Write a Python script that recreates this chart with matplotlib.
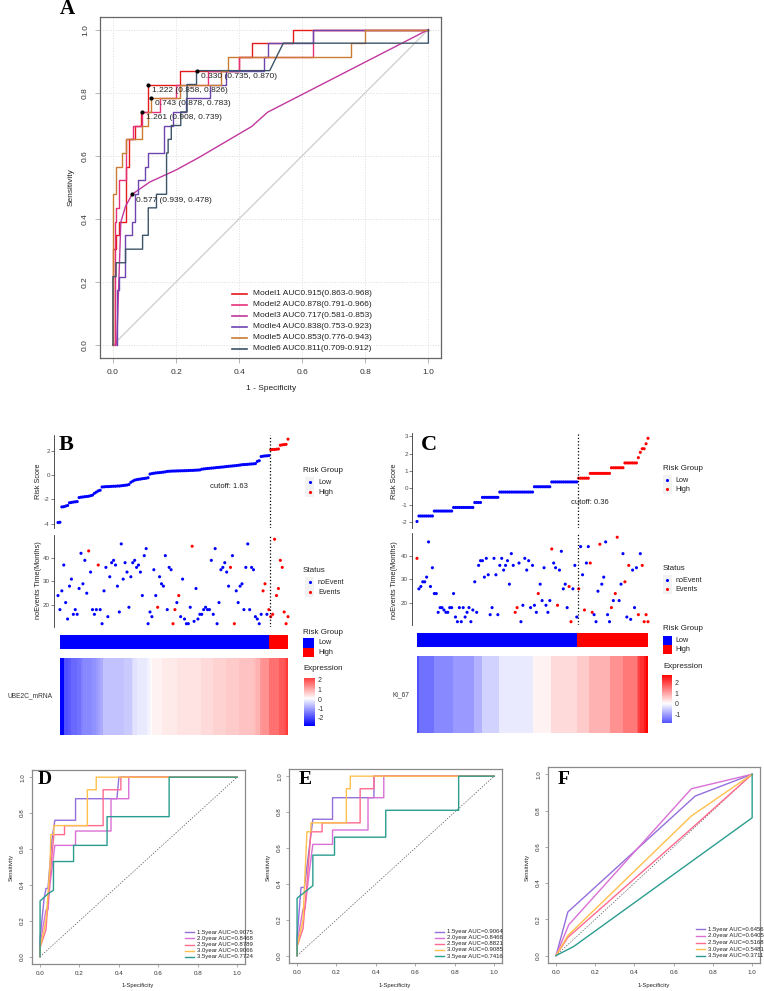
import numpy as np
import matplotlib.pyplot as plt
from matplotlib.colors import LinearSegmentedColormap, ListedColormap, Normalize
from matplotlib.patches import Rectangle

plt.rcParams['font.family'] = ['Liberation Sans', 'DejaVu Sans']

W, H = 764, 991

# ---------------- A: ROC of the six models ----------------
a_labels = ['Model1 AUC0.915(0.863-0.968)', 'Model2 AUC0.878(0.791-0.966)',
            'Model3 AUC0.717(0.581-0.853)', 'Modle4 AUC0.838(0.753-0.923)',
            'Modle5 AUC0.853(0.776-0.943)', 'Modle6 AUC0.811(0.709-0.912)']
a_colors = ['#E41A1C', '#E7307A', '#C2379E', '#6D44B0', '#C97C32', '#3D5468']

m1_fpr = [0, 0, 0.01, 0.01, 0.02, 0.02, 0.04, 0.04, 0.05, 0.05, 0.07, 0.07, 0.09, 0.09,
          0.112, 0.112, 0.212, 0.212, 0.40, 0.40, 0.44, 0.44, 0.57, 0.57, 1.0]
m1_tpr = [0, 0.304, 0.304, 0.348, 0.348, 0.391, 0.391, 0.565, 0.565, 0.652, 0.652, 0.696, 0.696,
          0.739, 0.739, 0.826, 0.826, 0.870, 0.870, 0.913, 0.913, 0.957, 0.957, 1.0, 1.0]
m2_fpr = [0.005, 0.005, 0.01, 0.01, 0.02, 0.02, 0.04, 0.04, 0.065, 0.065, 0.091, 0.091,
          0.15, 0.15, 0.20, 0.20, 0.30, 0.30, 0.40, 0.40, 0.634, 0.634, 1.0]
m2_tpr = [0, 0.391, 0.391, 0.435, 0.435, 0.522, 0.522, 0.652, 0.652, 0.696, 0.696, 0.739,
          0.739, 0.783, 0.783, 0.826, 0.826, 0.870, 0.870, 0.913, 0.913, 1.0, 1.0]
m3_fpr = [0, 0.012, 0.025, 0.04, 0.061, 0.117, 0.2, 0.275, 0.44, 0.49, 1.0]
m3_tpr = [0, 0, 0.39, 0.44, 0.478, 0.517, 0.555, 0.596, 0.693, 0.738, 1.0]
m4_fpr = [0.012, 0.012, 0.02, 0.02, 0.038, 0.038, 0.059, 0.059, 0.07, 0.07, 0.08, 0.08,
          0.103, 0.103, 0.112, 0.112, 0.162, 0.162, 0.19, 0.19, 0.233, 0.233, 0.307, 0.307,
          0.36, 0.36, 0.479, 0.479, 0.49, 0.49, 0.634, 0.634, 1.0]
m4_tpr = [0, 0.174, 0.174, 0.217, 0.217, 0.348, 0.348, 0.391, 0.391, 0.478, 0.478, 0.522,
          0.522, 0.565, 0.565, 0.609, 0.609, 0.696, 0.696, 0.739, 0.739, 0.783, 0.783, 0.826,
          0.826, 0.870, 0.870, 0.913, 0.913, 0.957, 0.957, 1.0, 1.0]
m5_fpr = [0, 0, 0.009, 0.009, 0.03, 0.03, 0.04, 0.04, 0.091, 0.091, 0.112, 0.112, 0.122, 0.122,
          0.212, 0.212, 0.344, 0.344, 0.365, 0.365, 0.755, 0.755, 0.80, 0.80, 1.0]
m5_tpr = [0, 0.478, 0.478, 0.565, 0.565, 0.609, 0.609, 0.652, 0.652, 0.696, 0.696, 0.739,
          0.739, 0.783, 0.783, 0.826, 0.826, 0.870, 0.870, 0.913, 0.913, 0.957, 0.957, 1.0, 1.0]
m6_fpr = [0, 0, 0.01, 0.01, 0.04, 0.04, 0.094, 0.094, 0.112, 0.112, 0.138, 0.138, 0.17, 0.17,
          0.175, 0.175, 0.185, 0.185, 0.215, 0.215, 0.235, 0.235, 0.265, 0.265, 0.497, 0.54,
          1.0, 1.0]
m6_tpr = [0, 0.217, 0.217, 0.261, 0.261, 0.304, 0.304, 0.348, 0.348, 0.435, 0.435, 0.478,
          0.478, 0.609, 0.609, 0.652, 0.652, 0.696, 0.696, 0.739, 0.739, 0.826, 0.826, 0.870,
          0.870, 0.957, 0.957, 1.0]

cut_fpr = [0.265, 0.112, 0.122, 0.091, 0.061]
cut_tpr = [0.870, 0.826, 0.783, 0.739, 0.478]
cut_text = ['0.330 (0.735, 0.870)', '1.222 (0.858, 0.826)', '0.743 (0.878, 0.783)',
            '1.261 (0.908, 0.739)', '0.577 (0.939, 0.478)']

# ---------------- B: UBE2C_mRNA risk model ----------------
b_risk = [-3.9, -3.88,
          -2.62, -2.6, -2.55, -2.5,
          -2.28, -2.25, -2.22, -2.2, -2.18,
          -1.85, -1.82, -1.8, -1.78, -1.76, -1.74, -1.7, -1.65,
          -1.5, -1.4, -1.3, -1.25,
          -0.98, -0.97, -0.95, -0.95, -0.94, -0.93, -0.92, -0.92, -0.9, -0.9, -0.88, -0.86,
          -0.84, -0.82, -0.78,
          -0.6, -0.5, -0.42, -0.38,
          -0.35, -0.33, -0.3, -0.28, -0.26, -0.22,
          0.08, 0.12, 0.15, 0.17, 0.19, 0.2, 0.22, 0.24, 0.26,
          0.3, 0.31, 0.32, 0.33, 0.33, 0.34, 0.34, 0.35, 0.35, 0.36, 0.36, 0.37, 0.38, 0.38,
          0.39, 0.4, 0.41, 0.42,
          0.48, 0.5, 0.52, 0.54, 0.55, 0.57, 0.58, 0.6, 0.62, 0.63, 0.65, 0.66, 0.68, 0.7,
          0.72, 0.73, 0.75, 0.76, 0.78, 0.8, 0.82,
          0.85, 0.86, 0.87, 0.88, 0.9, 0.91, 0.92, 0.94,
          1.12, 1.18,
          1.52, 1.55, 1.57, 1.58, 1.6,
          2.08, 2.1, 2.1, 2.12, 2.14,
          2.45, 2.48, 2.5, 2.52,
          2.95]
b_time = [24, 18, 26, 37, 21, 14, 28, 31, 16, 18, 16, 27, 42, 29, 39, 25, 43, 34, 18, 16,
          18, 37, 18, 12, 26, 36, 15, 32, 38, 39, 37, 28, 17, 46, 31, 38, 34, 19, 32, 38,
          39, 36, 37, 34, 24, 41, 44, 12, 17, 15, 35, 24, 19, 32, 29, 28, 41, 18, 36, 35,
          12, 18, 21, 24, 15, 31, 14, 12, 12, 19, 45, 13, 27, 14, 16, 16, 18, 19, 18, 18,
          39, 16, 44, 12, 21, 35, 36, 38, 34, 28, 36, 41, 12, 26, 21, 28, 29, 18, 36, 46,
          18, 36, 35, 15, 14, 12, 16, 26, 29, 16, 18,
          15, 16, 48, 24, 27, 39, 36, 17, 12, 15]
b_event = [0, 0, 0, 0, 0, 0, 0, 0, 0, 0, 0, 0, 0, 0, 0, 0, 1, 0, 0, 0,
           0, 1, 0, 0, 0, 0, 0, 0, 0, 0, 0, 0, 0, 0, 0, 0, 0, 0, 0, 0,
           0, 0, 0, 0, 0, 0, 0, 0, 0, 0, 0, 0, 1, 0, 0, 0, 0, 0, 0, 0,
           1, 1, 0, 1, 0, 0, 0, 0, 0, 0, 1, 0, 0, 0, 0, 0, 0, 0, 0, 0,
           0, 0, 0, 0, 0, 0, 0, 0, 0, 0, 1, 0, 1, 0, 0, 0, 0, 0, 0, 0,
           0, 0, 0, 0, 0, 0, 0, 1, 1, 0, 1,
           1, 1, 1, 1, 1, 1, 1, 1, 1, 1]
b_nlow = 111

# ---------------- C: Ki_67 risk model ----------------
c_levels = [-1.97, -1.65, -1.36, -1.15, -0.86, -0.56, -0.25, 0.06, 0.34,
            0.56, 0.84, 1.17, 1.45, 1.76, 2.07, 2.28, 2.57, 2.89]
c_counts = [1, 8, 10, 11, 4, 9, 18, 9, 14,
            6, 11, 7, 7, 1, 1, 2, 1, 1]
c_time = [39, 26, 27, 29, 29, 31, 46, 27, 35, 24, 24, 16, 18, 18, 17, 16, 16, 18, 18, 24,
          14, 12, 18, 12, 18, 14, 16, 18, 12, 17, 29, 16, 36, 38, 38, 31, 39, 32, 15, 18,
          39, 32, 15, 36, 39, 34, 36, 38, 28, 41, 36, 16, 18, 37, 12, 19, 39, 34, 38, 18,
          36, 19, 16, 24, 28, 21, 35, 19, 16, 21, 43, 37, 35, 19, 34, 42, 26, 28, 18, 27,
          12, 26, 36, 14,
          26, 44, 32, 17, 37, 44, 37, 16, 15, 12, 25, 45, 28, 31, 46, 15, 12, 18, 21, 24,
          48, 21, 28, 41, 29, 14, 36, 13, 34, 18, 35, 15, 41, 36, 12, 15, 12]
c_event = [1, 0, 0, 0, 0, 0, 0, 0, 0, 0, 0, 0, 0, 0, 0, 0, 0, 0, 0, 0,
           0, 0, 0, 0, 0, 0, 0, 0, 0, 0, 0, 0, 0, 0, 0, 0, 0, 0, 0, 0,
           0, 0, 0, 0, 0, 0, 0, 0, 0, 0, 0, 1, 1, 0, 0, 0, 0, 0, 0, 0,
           0, 0, 0, 1, 0, 0, 0, 0, 0, 0, 1, 0, 0, 1, 0, 0, 0, 0, 0, 1,
           1, 0, 0, 0,
           1, 0, 0, 1, 0, 0, 1, 1, 0, 0, 0, 1, 0, 0, 0, 0, 0, 1, 0, 1,
           1, 0, 0, 0, 1, 0, 1, 0, 0, 0, 0, 1, 0, 1, 1, 1, 1]
c_nlow = 84

# ---------------- D/E/F: time-dependent ROC ----------------
year_labels = ['1.5year', '2.0year', '2.5year', '3.0year', '3.5year']
year_colors = ['#9370DB', '#DA70D6', '#FF6A8F', '#FFC04C', '#2A9D8F']

d_auc = ['0.9075', '0.8468', '0.8789', '0.9066', '0.7724']
d_fpr = [[0, 0, 0.02, 0.03, 0.04, 0.06, 0.075, 0.18, 0.18, 0.39, 0.40, 1.0],
         [0, 0, 0.03, 0.04, 0.05, 0.075, 0.18, 0.18, 0.36, 0.36, 0.45, 0.45, 1.0],
         [0, 0, 0.03, 0.045, 0.07, 0.124, 0.124, 0.32, 0.32, 0.41, 0.41, 1.0],
         [0, 0, 0.03, 0.05, 0.055, 0.07, 0.07, 0.24, 0.24, 0.285, 0.285, 1.0],
         [0, 0, 0.04, 0.068, 0.068, 0.17, 0.17, 0.34, 0.34, 0.655, 0.655, 1.0]]
d_tpr = [[0, 0.1, 0.32, 0.38, 0.38, 0.65, 0.76, 0.76, 0.88, 0.88, 1.0, 1.0],
         [0, 0.07, 0.26, 0.26, 0.4, 0.62, 0.62, 0.70, 0.70, 0.88, 0.88, 1.0, 1.0],
         [0, 0.05, 0.15, 0.38, 0.68, 0.68, 0.73, 0.73, 0.93, 0.93, 1.0, 1.0],
         [0, 0.05, 0.2, 0.5, 0.68, 0.68, 0.73, 0.73, 0.93, 0.93, 1.0, 1.0],
         [0, 0.31, 0.35, 0.37, 0.53, 0.53, 0.62, 0.62, 0.78, 0.78, 1.0, 1.0]]

e_auc = ['0.9064', '0.8466', '0.8821', '0.9085', '0.7416']
e_fpr = [[0, 0, 0.02, 0.037, 0.08, 0.18, 0.18, 0.39, 0.39, 1.0],
         [0, 0, 0.03, 0.04, 0.06, 0.08, 0.18, 0.18, 0.36, 0.36, 0.44, 0.44, 1.0],
         [0, 0, 0.03, 0.05, 0.07, 0.127, 0.127, 0.32, 0.32, 0.39, 0.39, 1.0],
         [0, 0, 0.03, 0.05, 0.07, 0.07, 0.25, 0.25, 0.27, 0.27, 1.0],
         [0, 0, 0.08, 0.08, 0.19, 0.19, 0.45, 0.45, 0.82, 0.82, 1.0]]
e_tpr = [[0, 0.1, 0.38, 0.38, 0.76, 0.76, 0.88, 0.88, 1.0, 1.0],
         [0, 0.07, 0.26, 0.26, 0.45, 0.62, 0.62, 0.70, 0.70, 0.88, 0.88, 1.0, 1.0],
         [0, 0.05, 0.15, 0.4, 0.69, 0.69, 0.74, 0.74, 0.93, 0.93, 1.0, 1.0],
         [0, 0.05, 0.2, 0.69, 0.69, 0.74, 0.74, 0.93, 0.93, 1.0, 1.0],
         [0, 0.32, 0.39, 0.56, 0.56, 0.66, 0.66, 0.81, 0.81, 1.0, 1.0]]

f_auc = ['0.6456', '0.6405', '0.5168', '0.5481', '0.3711']
f_fpr = [[0, 0.06, 0.71, 1.0],
         [0, 0.065, 0.69, 1.0],
         [0, 0.06, 0.69, 1.0],
         [0, 0.06, 0.69, 1.0],
         [0, 0.09, 1.0, 1.0]]
f_tpr = [[0, 0.24, 0.88, 1.0],
         [0, 0.17, 0.92, 1.0],
         [0, 0.10, 0.70, 1.0],
         [0, 0.11, 0.77, 1.0],
         [0, 0.05, 0.76, 1.0]]


fig = plt.figure(figsize=(W / 100, H / 100), dpi=100)


def px_ax(x0, y0, x1, y1):
    # axes placed by pixel box (top-left origin)
    return fig.add_axes([x0 / W, 1 - y1 / H, (x1 - x0) / W, (y1 - y0) / H])


def roc_frame(ax, labelsize, length, pad, spine_col, tick_col):
    ticks = [0, 0.2, 0.4, 0.6, 0.8, 1.0]
    ax.set_xlim(-0.041, 1.04)
    ax.set_ylim(-0.041, 1.04)
    ax.set_xticks(ticks, labels=['%.1f' % t for t in ticks])
    ax.set_yticks(ticks, labels=['%.1f' % t for t in ticks])
    for lab in ax.get_yticklabels():
        lab.set_rotation(90)
        lab.set_va('center')
    ax.tick_params(labelsize=labelsize, length=length, width=0.5, pad=pad,
                   color=tick_col, labelcolor='#333333')
    for sp in ax.spines.values():
        sp.set_color(spine_col)
        sp.set_linewidth(0.9)


# ---- A
ax = px_ax(100, 17, 441, 358)
ax.grid(True, color='#DDDDDD', ls=':', lw=0.7)
ax.set_axisbelow(True)
ax.plot([0, 1], [0, 1], color='#C8C8C8', lw=0.8)
a_fpr = [m1_fpr, m2_fpr, m3_fpr, m4_fpr, m5_fpr, m6_fpr]
a_tpr = [m1_tpr, m2_tpr, m3_tpr, m4_tpr, m5_tpr, m6_tpr]
for fpr, tpr, col in zip(a_fpr, a_tpr, a_colors):
    ax.plot(fpr, tpr, color=col, lw=1.0)
ax.scatter(cut_fpr, cut_tpr, s=4, color='black', zorder=5)
for x, y, t in zip(cut_fpr, cut_tpr, cut_text):
    ax.annotate(t, (x, y), xytext=(2.9, -4.2), textcoords='offset points',
                fontsize=6, ha='left', va='center', color='#222222')
roc_frame(ax, 6, 3.5, 4.5, '#666666', '#999999')

# ---- B / C risk panels
cmap_hm = LinearSegmentedColormap.from_list('bwr_ph', ['#0000FF', '#FFFFFF', '#FF0000'], N=64)
grp_cmap = ListedColormap(['#0000FF', '#FF0000'])


def risk_panel(risk, time, event, n_low, p):
    risk = np.asarray(risk, dtype=float)
    n = len(risk)
    idx_r = np.arange(1, n + 1)
    idx_t = np.arange(1, len(time) + 1)
    step = (p['last'] - p['first']) / (n - 1)
    xl = (1 - (p['first'] - p['x0']) / step, n + 4 / step)
    cut_x = n_low + 0.5

    def side_axis(a, ticks):
        for s in ['top', 'right', 'bottom']:
            a.spines[s].set_visible(False)
        a.spines['left'].set_color('#333333')
        a.spines['left'].set_linewidth(0.6)
        a.set_xticks([])
        a.set_yticks(ticks, labels=[str(t) for t in ticks])
        a.tick_params(axis='y', labelsize=4.5, length=2, width=0.5, pad=1,
                      colors='#4D4D4D')
        a.set_xlim(*xl)
        a.patch.set_alpha(0)

    r_col = ['#0000FF' if i < n_low else '#FF0000' for i in range(n)]
    a1 = px_ax(p['x0'], p['ry0'], p['last'] + 4, p['ry1'])
    a1.scatter(idx_r, risk, c=r_col, s=5, lw=0)
    a1.axvline(cut_x, color='black', ls=':', lw=0.9)
    a1.set_ylim(*p['rlim'])
    side_axis(a1, p['rticks'])

    t_col = ['#FF0000' if e else '#0000FF' for e in event]
    a2 = px_ax(p['x0'], p['ty0'], p['last'] + 4, p['ty1'])
    a2.scatter(idx_t, time, c=t_col, s=5, lw=0)
    a2.axvline(cut_x, color='black', ls=':', lw=0.9)
    a2.set_ylim(10.6, 49.8)
    side_axis(a2, [20, 30, 40])

    grp = (np.arange(n) >= n_low).astype(int)
    a3 = px_ax(p['hx0'], p['by0'], p['hx1'], p['by1'])
    a3.imshow(grp[None, :], aspect='auto', cmap=grp_cmap, vmin=0, vmax=1,
              extent=(0.5, n + 0.5, 0, 1), interpolation='nearest')
    a3.axis('off')

    z = (risk - risk.mean()) / risk.std(ddof=1)
    lim = np.abs(z).max()
    norm = Normalize(-lim, lim)
    a4 = px_ax(p['hx0'], p['hy0'], p['hx1'], p['hy1'])
    a4.imshow(z[None, :], aspect='auto', cmap=cmap_hm, norm=norm,
              extent=(0.5, n + 0.5, 0, 1), interpolation='nearest')
    a4.axis('off')

    # expression colour key
    zmin, zmax = z.min(), z.max()
    top = p['c_zero'] - zmax * p['c_ppu']
    bot = p['c_zero'] - zmin * p['c_ppu']
    cax = px_ax(p['cx0'], top, p['cx0'] + p['cw'], bot)
    cax.imshow(np.linspace(zmin, zmax, 200)[:, None], aspect='auto', cmap=cmap_hm,
               norm=norm, extent=(0, 1, zmin, zmax), origin='lower')
    cticks = [t for t in range(-3, 4) if zmin <= t <= zmax]
    cax.set_xticks([])
    cax.yaxis.tick_right()
    cax.set_yticks(cticks, labels=[str(t) for t in cticks])
    cax.tick_params(length=0, pad=2, labelsize=5, labelcolor='#333333')
    for sp in cax.spines.values():
        sp.set_visible(False)


pB = dict(x0=54, first=58, last=288, ry0=435, ry1=528, rlim=(-4.35, 3.29),
          rticks=[-4, -2, 0, 2], ty0=535, ty1=627, hx0=60, hx1=288,
          by0=635, by1=649, hy0=658, hy1=735, cx0=304, cw=11, c_zero=699, c_ppu=9.5)
pC = dict(x0=412, first=417, last=648, ry0=433, ry1=528, rlim=(-2.35, 3.2),
          rticks=[-2, -1, 0, 1, 2, 3], ty0=533, ty1=625, hx0=417, hx1=648,
          by0=633, by1=647, hy0=656, hy1=733, cx0=662, cw=10, c_zero=704, c_ppu=10.5)
c_risk = np.repeat(c_levels, c_counts)
risk_panel(b_risk, b_time, b_event, b_nlow, pB)
risk_panel(c_risk, c_time, c_event, c_nlow, pC)

# ---- D / E / F


def small_roc(box, fprs, tprs):
    a = px_ax(*box)
    a.plot([0, 1], [0, 1], color='#555555', lw=0.5, ls=(0, (2, 2)))
    for fpr, tpr, col in zip(fprs, tprs, year_colors):
        a.plot(fpr, tpr, color=col, lw=1.0)
    roc_frame(a, 4.5, 2.5, 2.5, '#8A8A8A', '#8A8A8A')
    return a


small_roc((32, 770, 245, 964), d_fpr, d_tpr)
small_roc((289, 769, 502, 963), e_fpr, e_tpr)
small_roc((548, 767, 760, 963), f_fpr, f_tpr)

# ---------------- overlay: labels, legends ----------------
ov = fig.add_axes([0, 0, 1, 1], zorder=10)
ov.set_xlim(0, W)
ov.set_ylim(H, 0)
ov.axis('off')
ov.patch.set_alpha(0)

serif = ['Liberation Serif', 'DejaVu Serif']
for letter, x, y, fs in [('A', 67, 9, 15), ('B', 66.5, 445, 16), ('C', 429, 445, 16),
                         ('D', 45, 780, 14), ('E', 305, 780, 14), ('F', 564, 779, 14)]:
    ov.text(x, y, letter, family=serif, fontweight='bold', fontsize=fs,
            ha='center', va='center')

# A labels and legend
ov.text(71, 187, 'Sensitivity', rotation=90, fontsize=6, ha='center', va='center', color='#222222')
ov.text(271, 388, '1 - Specificity', fontsize=6, ha='center', va='center', color='#222222')
for k, (lab, col) in enumerate(zip(a_labels, a_colors)):
    y = 293.5 + 11 * k
    ov.plot([232, 247], [y, y], color=col, lw=1.2)
    ov.text(253, y, lab, fontsize=6, va='center', color='#222222')

# B / C axis labels
for x in [38, 395]:
    ov.text(x, 481, 'Risk Score', rotation=90, fontsize=5.3, ha='center', va='center', color='#222222')
    ov.text(x, 580, 'noEvents Time(Months)', rotation=90, fontsize=5.3, ha='center',
            va='center', color='#222222')
ov.text(229, 486, 'cutoff: 1.63', fontsize=5.5, ha='center', va='center', color='#222222')
ov.text(590, 503, 'cutoff: 0.36', fontsize=5.5, ha='center', va='center', color='#222222')
ov.text(52, 696, 'UBE2C_mRNA', fontsize=4.8, ha='right', va='center', color='#333333')
ov.text(409, 695, 'Ki_67', fontsize=4.8, ha='right', va='center', color='#333333')


def key_legend(xt, xk, xl, yt, rows, title, labels, cols, gap, square=False, kw=10):
    ov.text(xt, yt, title, fontsize=5.8, va='center', color='#222222')
    for k, (lab, col) in enumerate(zip(labels, cols)):
        y = rows + gap * k
        if square:
            ov.add_patch(Rectangle((xk - kw / 2, y - gap / 2), kw, gap, color=col, lw=0))
        else:
            ov.add_patch(Rectangle((xk - 4.8, y - gap / 2), 9.6, gap, color='#F2F2F2', lw=0))
            ov.scatter([xk], [y], s=5, color=col, lw=0)
        ov.text(xl, y, lab, fontsize=5.2, va='center', color='#222222')


rb = ['#0000FF', '#FF0000']
key_legend(303, 309.5, 318, 471, 482, 'Risk Group', ['Low', 'High'], rb, 10)
key_legend(303, 309.5, 318, 571, 582, 'Status', ['noEvent', 'Events'], rb, 10)
key_legend(303, 308.7, 318, 632, 643, 'Risk Group', ['Low', 'High'], rb, 9.4, square=True, kw=10.7)
ov.text(303, 668, 'Expression', fontsize=5.8, va='center', color='#222222')
key_legend(663, 667.3, 675.5, 468, 480, 'Risk Group', ['Low', 'High'], rb, 9.3)
key_legend(663, 667.3, 675.5, 568, 580, 'Status', ['noEvent', 'Events'], rb, 9.3)
key_legend(663, 667.3, 675.5, 629, 640.6, 'Risk Group', ['Low', 'High'], rb, 9.2, square=True, kw=9.5)
ov.text(663, 667, 'Expression', fontsize=5.8, va='center', color='#222222')

# D/E/F labels and legends
for xs, xc, x_line, y0, gap, aucs in [(11, 138, 185, 932.3, 6.1, d_auc),
                                      (268, 395, 435, 931.7, 6.1, e_auc),
                                      (527, 654, 696, 929.3, 6.6, f_auc)]:
    ov.text(xs, 867, 'Sensitivity', rotation=90, fontsize=4.2, ha='center', va='center', color='#222222')
    ov.text(xc, 985, '1-Specificity', fontsize=4.2, ha='center', va='center', color='#222222')
    for k, (yl, col, auc) in enumerate(zip(year_labels, year_colors, aucs)):
        y = y0 + gap * k
        ov.plot([x_line, x_line + 9], [y, y], color=col, lw=1.0)
        ov.text(x_line + 12, y, '%s AUC=%s' % (yl, auc), fontsize=4.3, va='center', color='#222222')

fig.savefig('out.png', dpi=100)
